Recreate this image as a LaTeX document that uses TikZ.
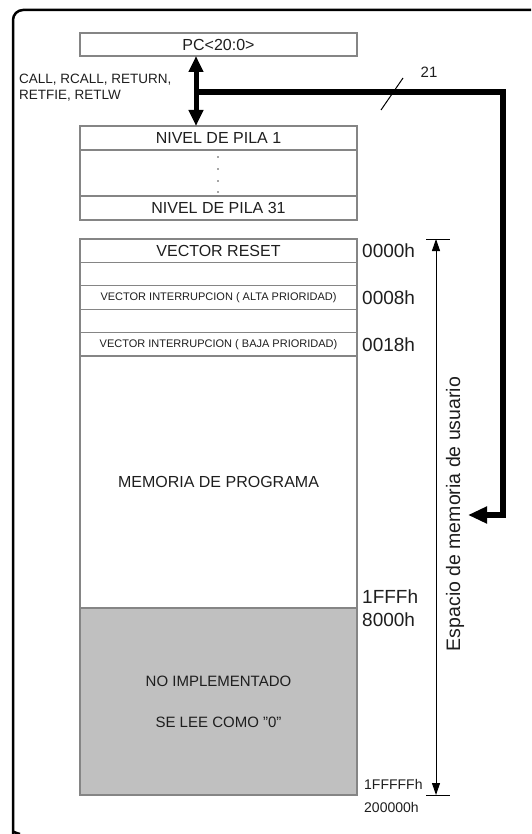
\documentclass[tikz,border=0pt]{standalone}
\usepackage{fontspec}
\setmainfont{Liberation Sans}
\usetikzlibrary{arrows.meta}
\definecolor{boxgray}{HTML}{858585}
\definecolor{fillgray}{HTML}{C0C0C0}
\definecolor{ink}{HTML}{1E1E1E}
\newcommand{\txtsize}[1]{\fontsize{#1}{#1}\selectfont}

\begin{document}
\begin{tikzpicture}[x=1pt,y=-1pt,
  mem/.style={draw=boxgray,line width=1.3pt,minimum width=277pt,inner sep=0pt,outer sep=0pt,text=ink,font=\txtsize{16}},
  small/.style={font=\txtsize{11}},
  addr/.style={anchor=west,inner sep=0pt,text=ink,font=\txtsize{19}},
  addrsmall/.style={anchor=west,inner sep=0pt,text=ink,font=\txtsize{14}},
  bus/.style={line width=6pt,line join=miter,-{Triangle[width=16pt,length=19pt]}},
  pcarrow/.style={line width=5pt,{Triangle[width=14pt,length=16pt]}-{Triangle[width=14pt,length=16pt]}},
  span/.style={line width=1pt,{Triangle[width=8pt,length=12pt]}-{Triangle[width=8pt,length=12pt]}}]
\useasboundingbox (0,0) rectangle (531,834);
% marco
\draw[line width=2.5pt,rounded corners=10pt] (531,10) -| (13,825) .. controls (13,830) and (15,833) .. (20,834);

% pila
\node[mem,minimum height=23pt] (pc) at (218.5,44.5) {PC<20:0>};
\node[mem,minimum height=24pt] (pila1) at (218.5,138) {NIVEL DE PILA 1};
\node[mem,minimum height=46pt] (piladots) at (218.5,173) {};
\node[mem,minimum height=24pt] (pila31) at (218.5,208) {NIVEL DE PILA 31};
\foreach \y in {157,169,181,192}
  \fill[ink!80] (218,\y) circle (0.9pt);

% memoria de programa
\node[mem,minimum height=23.4pt] (reset) at (218.5,250.7) {VECTOR RESET};
\node[mem,minimum height=23.4pt] (blank1) at (218.5,274.1) {};
\node[mem,small,minimum height=23.4pt] (alta) at (218.5,297.5) {VECTOR INTERRUPCION ( ALTA PRIORIDAD)};
\node[mem,minimum height=23.4pt] (blank2) at (218.5,320.9) {};
\node[mem,small,minimum height=23.4pt] (baja) at (218.5,344.3) {VECTOR INTERRUPCION ( BAJA PRIORIDAD)};
\node[mem,minimum height=252pt] (prog) at (218.5,482) {MEMORIA DE PROGRAMA};
\node[mem,fill=fillgray,minimum height=187pt,align=center,font=\txtsize{15}] (noimpl) at (218.5,701.5)
  {NO IMPLEMENTADO\\[26pt]SE LEE COMO "0"};

% direcciones
\node[addr] (a0000) at (362,251) {0000h};
\node[addr] (a0008) at (362,298) {0008h};
\node[addr] (a0018) at (362,345) {0018h};
\node[addr] (a1fff) at (362,597) {1FFFh};
\node[addr] (a8000) at (362,620) {8000h};
\node[addrsmall] (a1fffff) at (364,784) {1FFFFFh};
\node[addrsmall] (a200000) at (364,807) {200000h};

% bus de 21 bits
\node[anchor=west,align=left,inner sep=0pt,text=ink,font=\txtsize{13.5}] (instr) at (19,87.5)
  {CALL, RCALL, RETURN,\\[3pt]RETFIE, RETLW};
\coordinate (busA) at (196,92);
\coordinate (busB) at (503,92);
\coordinate (busC) at (468,515);
\draw[pcarrow] (pc.south -| busA) -- (pila1.north -| busA);
\draw[bus] (busA) -- (busB) |- (busC);
\coordinate (slashA) at (381,110);
\coordinate (slashB) at (403,78);
\draw[line width=1pt] (slashA) -- (slashB);
\node[text=ink,font=\txtsize{15}] (width) at (429,72) {21};

% espacio de usuario
\coordinate (top) at (436,239);
\coordinate (bot) at (436,795);
\draw[span] (top) -- (bot);
\draw[line width=1pt] ([xshift=-10pt]top) -- ([xshift=14pt]top);
\draw[line width=1pt] ([xshift=-10pt]bot) -- ([xshift=14pt]bot);
\node[rotate=90,text=ink,font=\txtsize{19.5}] (espacio) at (455,514) {Espacio de memoria de usuario};
\end{tikzpicture}
\end{document}
